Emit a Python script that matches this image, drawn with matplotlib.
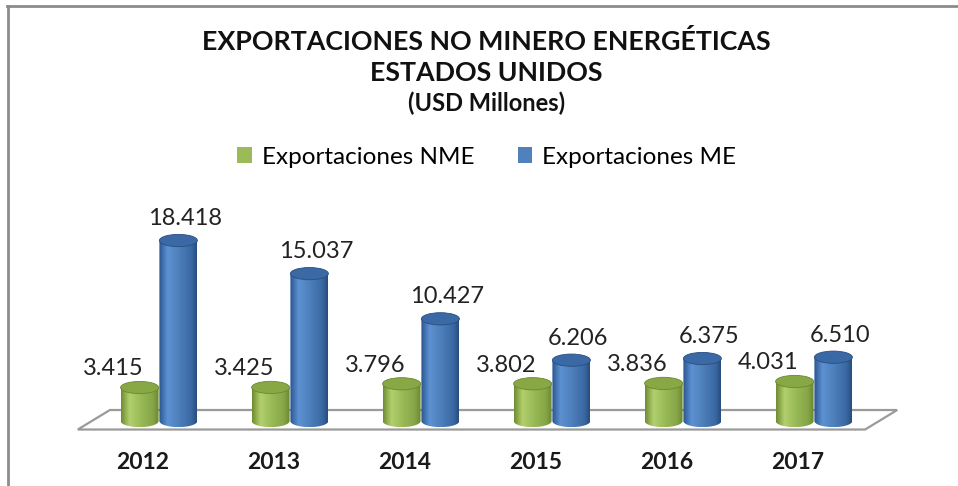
import numpy as np
import matplotlib
matplotlib.use("Agg")
import matplotlib.pyplot as plt
from matplotlib.patches import Ellipse, PathPatch, Patch, Polygon
from matplotlib.path import Path
from matplotlib.colors import to_rgb
from matplotlib.lines import Line2D

# data (USD millones)
years = ["2012", "2013", "2014", "2015", "2016", "2017"]
nme = [3415, 3425, 3796, 3802, 3836, 4031]
me = [18418, 15037, 10427, 6206, 6375, 6510]
series_names = ["Exportaciones NME", "Exportaciones ME"]

FONT = ["Lato", "DejaVu Sans"]
plt.rcParams["font.family"] = FONT

# colours: (body gradient stops, top colour, legend colour)
GREEN = ([(0.0, "#6f8d33"), (0.22, "#b2cf6c"), (0.5, "#9bbb59"), (0.85, "#86a547"), (1.0, "#6a8830")],
         "#88a845", "#9bbb59")
BLUE = ([(0.0, "#2a5690"), (0.22, "#5d91d2"), (0.5, "#4f81bd"), (0.85, "#3b69a4"), (1.0, "#294e7f")],
        "#3a69a6", "#4f81bd")

BAR_W = 0.29        # cylinder width in category units
OFFSET = 0.148      # half distance between the two cylinders
ELL_H = 1250        # ellipse height in value units
DEPTH_X = 0.245     # floor perspective shift
FLOOR_FRONT = -870
FLOOR_BACK = 1120


def gradient(stops, n=64):
    xs = np.linspace(0, 1, n)
    pos = [s[0] for s in stops]
    cols = np.array([to_rgb(s[1]) for s in stops])
    rgb = np.stack([np.interp(xs, pos, cols[:, k]) for k in range(3)], axis=-1)
    return rgb[np.newaxis, :, :]


def cylinder(ax, xc, value, style, z):
    stops, top_col, _ = style
    x0, x1 = xc - BAR_W / 2, xc + BAR_W / 2
    t = np.linspace(np.pi, 2 * np.pi, 40)
    bottom = np.column_stack([xc + BAR_W / 2 * np.cos(t), ELL_H / 2 * np.sin(t)])
    verts = np.vstack([[x0, value], bottom, [x1, value], [x0, value]])
    codes = [Path.MOVETO] + [Path.LINETO] * (len(verts) - 2) + [Path.CLOSEPOLY]
    clip = PathPatch(Path(verts, codes), facecolor="none", edgecolor="none", zorder=z)
    ax.add_patch(clip)
    im = ax.imshow(gradient(stops), extent=(x0, x1, -ELL_H / 2, value), aspect="auto",
                   interpolation="bilinear", zorder=z)
    im.set_clip_path(clip)
    ax.add_patch(Ellipse((xc, value), BAR_W, ELL_H, facecolor=top_col,
                         edgecolor=stops[-1][1], linewidth=0.6, zorder=z + 0.1))


fig = plt.figure(figsize=(9.58, 4.86), dpi=100)
ax = fig.add_axes([0, 0, 1, 1])
ax.axis("off")
ax.set_xlim(-159 / 131, 799 / 131)
ax.set_ylim(-6633, 42959)

n = len(years)
x = np.arange(n)

# floor
left, right = -0.62, n - 0.61
floor = Polygon([(left, FLOOR_FRONT), (right, FLOOR_FRONT), (right + DEPTH_X, FLOOR_BACK),
                 (left + DEPTH_X, FLOOR_BACK)], closed=True, facecolor="white",
                edgecolor="#9a9a9a", linewidth=1.6, zorder=1)
ax.add_patch(floor)

for i in range(n):
    cylinder(ax, x[i] - OFFSET, nme[i], GREEN, 3)
    cylinder(ax, x[i] + OFFSET, me[i], BLUE, 3)
    ax.text(x[i] - OFFSET - 0.2, nme[i] + 1900, f"{nme[i]:,}".replace(",", "."),
            ha="center", va="center", fontsize=17, color="#222222")
    ax.text(x[i] + OFFSET + 0.05, me[i] + 2250, f"{me[i]:,}".replace(",", "."),
            ha="center", va="center", fontsize=17, color="#222222")
    ax.text(x[i] - 0.122, -4200, years[i], ha="center", va="center",
            fontsize=16.5, fontweight="bold", color="#1a1a1a")

# titles
fig.text(0.508, 1 - 42 / 486, "EXPORTACIONES NO MINERO ENERGÉTICAS", ha="center", va="center",
         fontsize=19.3, fontweight="bold", color="#111111")
fig.text(0.508, 1 - 73 / 486, "ESTADOS UNIDOS", ha="center", va="center",
         fontsize=19.3, fontweight="bold", color="#111111")
fig.text(0.508, 1 - 103 / 486, "(USD Millones)", ha="center", va="center",
         fontsize=17, fontweight="bold", color="#111111")

handles = [Patch(facecolor=GREEN[2]), Patch(facecolor=BLUE[2])]
fig.legend(handles, series_names, loc="center", bbox_to_anchor=(0.508, 1 - 157 / 486),
           ncol=2, frameon=False, fontsize=17.5, handlelength=0.6, handleheight=0.6,
           handletextpad=0.4, columnspacing=1.8)

# frame lines at top and left
fig.add_artist(Line2D([7 / 958, 1], [1 - 6.5 / 486] * 2, color="#8c8c8c", linewidth=2))
fig.add_artist(Line2D([7.5 / 958] * 2, [0, 1 - 6.5 / 486], color="#8c8c8c", linewidth=2))

fig.savefig("out.png", dpi=100)
